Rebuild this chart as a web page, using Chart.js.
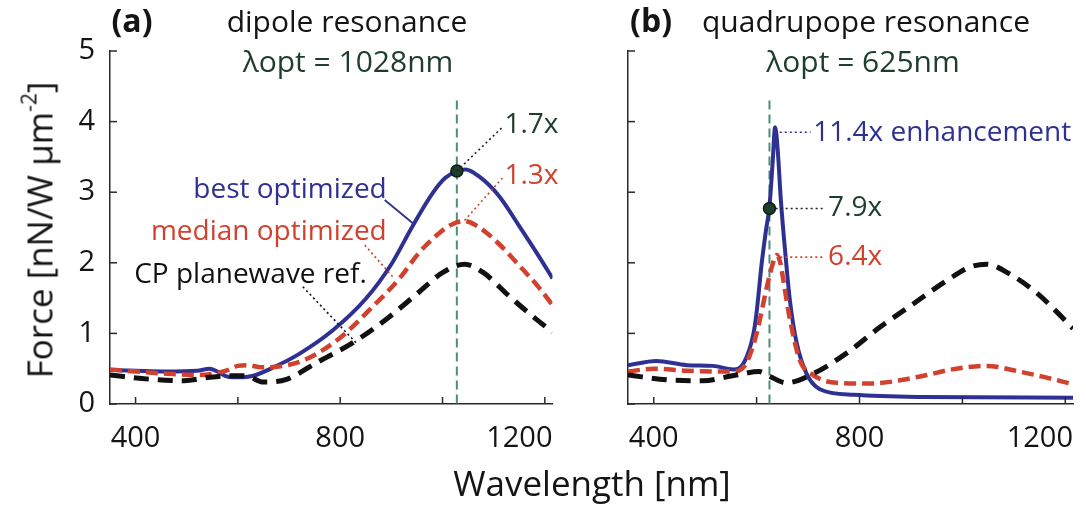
<!DOCTYPE html>
<html>
<head>
<meta charset="utf-8">
<script src="https://cdn.jsdelivr.net/npm/chart.js@4.4.1/dist/chart.umd.min.js"></script>
<style>
  body { margin: 0; background: #fff; width: 1086px; height: 508px; position: relative; overflow: hidden;
         font-family: 'Open Sans', sans-serif; color: #141414; }
  canvas { position: absolute; top: 0; }
  .t { position: absolute; white-space: nowrap; line-height: 1; transform: translateX(-50%); }
  .green { color: #1f3d2c; }
  sup { font-size: 0.6em; line-height: 0; vertical-align: 0.75em; }
</style>
</head>
<body>
<canvas id="chartA" width="560" height="508" style="left:0"></canvas>
<canvas id="chartB" width="526" height="508" style="left:560px"></canvas>

<!-- titles: top = baseline - 0.888 * font size (Open Sans, line-height 1) -->
<div class="t" style="left:132px;top:4px;font-size:32px;font-weight:bold">(a)</div>
<div class="t" style="left:347px;top:6px;font-size:30px">dipole resonance</div>
<div class="t green" style="left:348px;top:46px;font-size:30px">λopt = 1028nm</div>
<div class="t" style="left:651px;top:4px;font-size:32px;font-weight:bold">(b)</div>
<div class="t" style="left:866px;top:6px;font-size:30px">quadrupope resonance</div>
<div class="t green" style="left:863px;top:46px;font-size:30px">λopt = 625nm</div>
<div class="t" style="left:592px;top:465px;font-size:35px">Wavelength [nm]</div>
<div class="t" style="left:39px;top:230px;font-size:35px;transform:translate(-50%,-50%) rotate(-90deg)">Force [nN/W µm<sup>-2</sup>]</div>

<script>
// Achsen
const X_MIN = 350, X_MAX = 1215;
const Y_MIN = 0, Y_MAX = 5;
const X_TICKS = [400, 600, 800, 1000, 1200];
const X_TICK_LABELS = ['400', '', '800', '', '1200'];
const Y_TICKS = [0, 1, 2, 3, 4, 5];

// (a) dipole resonance
const A_BEST_NM = [350, 400, 460, 520, 545, 560, 575, 590, 610, 630, 670, 720, 785, 850, 900, 940, 980, 1005, 1028, 1045, 1070, 1110, 1150, 1185, 1215];
const A_BEST_F  = [0.48, 0.47, 0.46, 0.47, 0.50, 0.46, 0.40, 0.38, 0.38, 0.40, 0.52, 0.71, 1.04, 1.49, 1.98, 2.50, 2.98, 3.20, 3.30, 3.32, 3.23, 2.95, 2.52, 2.13, 1.78];
const A_MED_NM  = [350, 400, 460, 525, 560, 580, 600, 620, 645, 680, 735, 800, 865, 915, 955, 995, 1020, 1043, 1070, 1110, 1150, 1185, 1215];
const A_MED_F   = [0.49, 0.46, 0.43, 0.41, 0.44, 0.48, 0.54, 0.55, 0.52, 0.53, 0.64, 0.94, 1.39, 1.77, 2.15, 2.43, 2.55, 2.59, 2.51, 2.27, 1.96, 1.68, 1.40];
const A_REF_NM  = [350, 430, 495, 545, 585, 615, 650, 695, 755, 825, 890, 950, 1000, 1043, 1080, 1130, 1180, 1215];
const A_REF_F   = [0.41, 0.35, 0.33, 0.38, 0.40, 0.40, 0.31, 0.35, 0.59, 0.87, 1.20, 1.56, 1.86, 1.98, 1.86, 1.53, 1.22, 1.02];
const A_LAMBDA_OPT = 1028;
const A_OPT_F = 3.3;

// (b) quadrupole resonance
const B_BEST_NM = [350, 405, 465, 515, 555, 575, 594, 600, 610, 618, 625, 631, 636, 641, 647, 655, 665, 678, 697, 723, 790, 920, 1215];
const B_BEST_F  = [0.55, 0.61, 0.55, 0.54, 0.49, 0.58, 1.00, 1.30, 2.00, 2.45, 2.80, 3.40, 3.92, 3.60, 2.90, 2.20, 1.45, 0.86, 0.43, 0.21, 0.13, 0.10, 0.09];
const B_MED_NM  = [350, 400, 465, 555, 580, 600, 620, 632, 639, 646, 652, 665, 684, 710, 755, 820, 918, 980, 1047, 1110, 1160, 1215];
const B_MED_F   = [0.46, 0.50, 0.47, 0.46, 0.58, 1.00, 1.66, 2.00, 2.11, 2.00, 1.75, 1.19, 0.62, 0.41, 0.30, 0.29, 0.39, 0.49, 0.54, 0.46, 0.38, 0.28];
const B_REF_NM  = [350, 430, 495, 560, 605, 626, 658, 710, 775, 840, 905, 970, 1015, 1047, 1090, 1145, 1180, 1215];
const B_REF_F   = [0.41, 0.34, 0.33, 0.41, 0.46, 0.39, 0.30, 0.43, 0.72, 1.09, 1.42, 1.75, 1.94, 1.98, 1.85, 1.57, 1.33, 1.07];
const B_LAMBDA_OPT = 625;
const B_OPT_F = 2.77;

const BLUE = '#2e3192';
const RED = '#d2412e';
const GREEN = '#1f3d2c';
const AXIS = '#2a2a2a';

function series(nm, f) {
    return nm.map((v, i) => ({ x: v, y: f[i] }));
}

// MATLAB-Stil: Ticks nach innen, Optimum-Linie, Beschriftungen mit Hilfslinien
const matlabPlugin = {
    id: 'matlab',
    beforeDatasetsDraw(chart, args, opts) {
        const { ctx, chartArea, scales: { x, y } } = chart;
        const px = x.getPixelForValue(opts.lambda);
        ctx.save();
        ctx.strokeStyle = '#4e8e77';
        ctx.lineWidth = 2;
        ctx.setLineDash([9, 5]);
        ctx.beginPath();
        ctx.moveTo(px, y.getPixelForValue(opts.lineTop));
        ctx.lineTo(px, chartArea.bottom);
        ctx.stroke();
        ctx.restore();
    },
    afterDraw(chart, args, opts) {
        const { ctx, chartArea, scales: { x, y } } = chart;
        ctx.save();
        ctx.strokeStyle = AXIS;
        ctx.lineWidth = 1.5;
        X_TICKS.forEach(v => {
            const px = x.getPixelForValue(v);
            ctx.beginPath();
            ctx.moveTo(px, chartArea.bottom);
            ctx.lineTo(px, chartArea.bottom - 7);
            ctx.stroke();
        });
        Y_TICKS.forEach(v => {
            const py = y.getPixelForValue(v);
            ctx.beginPath();
            ctx.moveTo(chartArea.left, py);
            ctx.lineTo(chartArea.left + 7, py);
            ctx.stroke();
        });

        // x labels, the last one is kept inside the axis like in the original
        ctx.font = '29px "Open Sans"';
        ctx.fillStyle = '#141414';
        ctx.textAlign = 'center';
        ctx.textBaseline = 'alphabetic';
        X_TICKS.forEach((v, i) => {
            const t = X_TICK_LABELS[i];
            if (!t) return;
            const w = ctx.measureText(t).width;
            const cx = Math.min(x.getPixelForValue(v), chartArea.right - w / 2);
            ctx.fillText(t, cx, chartArea.bottom + 43);
        });

        opts.notes.forEach(n => {
            if (n.from) {
                ctx.strokeStyle = n.lineColor || n.color;
                ctx.lineWidth = n.dotted ? 1.6 : 1.8;
                ctx.setLineDash(n.dotted ? [2, 3] : []);
                ctx.beginPath();
                ctx.moveTo(x.getPixelForValue(n.from[0]), y.getPixelForValue(n.from[1]));
                ctx.lineTo(x.getPixelForValue(n.to[0]), y.getPixelForValue(n.to[1]));
                ctx.stroke();
            }
            ctx.font = '28px "Open Sans"';
            ctx.fillStyle = n.color;
            ctx.textAlign = n.align;
            ctx.textBaseline = 'middle';
            ctx.fillText(n.text, x.getPixelForValue(n.at[0]), y.getPixelForValue(n.at[1]));
        });
        ctx.restore();
    }
};

function makeChart(id, cfg) {
    return new Chart(document.getElementById(id), {
        type: 'line',
        data: {
            datasets: [
                { label: 'optimum', data: [{ x: cfg.lambda, y: cfg.optF }], showLine: false,
                  pointRadius: 6, backgroundColor: GREEN, borderColor: '#0e1d14', borderWidth: 1.5, order: 0 },
                { label: 'CP planewave ref.', data: cfg.ref, borderColor: '#111', borderWidth: 5,
                  borderDash: [15, 9], pointRadius: 0, order: 1 },
                { label: 'median optimized', data: cfg.med, borderColor: RED, borderWidth: 4.5,
                  borderDash: [12, 6], pointRadius: 0, order: 2 },
                { label: 'best optimized', data: cfg.best, borderColor: BLUE, borderWidth: 4,
                  pointRadius: 0, order: 3 }
            ]
        },
        options: {
            responsive: false,
            animation: false,
            devicePixelRatio: 1,
            events: [],
            layout: { padding: { top: 51, right: cfg.padRight, left: 0, bottom: 0 } },
            datasets: { line: { cubicInterpolationMode: 'monotone', fill: false } },
            plugins: {
                legend: { display: false },
                tooltip: { enabled: false },
                matlab: { lambda: cfg.lambda, lineTop: 4.3, notes: cfg.notes }
            },
            scales: {
                x: {
                    type: 'linear', min: X_MIN, max: X_MAX,
                    grid: { display: false },
                    border: { display: true, color: AXIS, width: 1.5 },
                    ticks: { display: false },
                    afterFit: s => { s.height = 104; }
                },
                y: {
                    min: Y_MIN, max: Y_MAX,
                    grid: { display: false, drawTicks: false },
                    border: { display: true, color: AXIS, width: 1.5 },
                    ticks: { display: cfg.yLabels, stepSize: 1, padding: 15, color: '#141414',
                             font: { family: 'Open Sans', size: 29 } },
                    afterFit: s => { s.width = cfg.axisLeft; }
                }
            }
        },
        plugins: [matlabPlugin]
    });
}

makeChart('chartA', {
    lambda: A_LAMBDA_OPT, optF: A_OPT_F,
    best: series(A_BEST_NM, A_BEST_F),
    med: series(A_MED_NM, A_MED_F),
    ref: series(A_REF_NM, A_REF_F),
    axisLeft: 110, padRight: 7, yLabels: true,
    notes: [
        { text: '1.7x', color: GREEN, lineColor: '#222', align: 'left', at: [1121, 3.95],
          from: [A_LAMBDA_OPT, A_OPT_F], to: [1117, 3.92], dotted: true },
        { text: '1.3x', color: RED, align: 'left', at: [1121, 3.23],
          from: [1043, 2.6], to: [1117, 3.2], dotted: true },
        { text: 'best optimized', color: BLUE, align: 'right', at: [891, 3.03],
          from: [887, 2.89], to: [942, 2.56] },
        { text: 'median optimized', color: RED, align: 'right', at: [891, 2.44],
          from: [848, 2.25], to: [903, 1.8], dotted: true },
        { text: 'CP planewave ref.', color: '#111', align: 'right', at: [852, 1.83],
          from: [727, 1.66], to: [832, 0.86], dotted: true }
    ]
});

makeChart('chartB', {
    lambda: B_LAMBDA_OPT, optF: B_OPT_F,
    best: series(B_BEST_NM, B_BEST_F),
    med: series(B_MED_NM, B_MED_F),
    ref: series(B_REF_NM, B_REF_F),
    axisLeft: 68, padRight: 13, yLabels: false,
    notes: [
        { text: '11.4x enhancement', color: BLUE, align: 'left', at: [710, 3.84],
          from: [645, 3.85], to: [705, 3.85], dotted: true },
        { text: '7.9x', color: GREEN, lineColor: '#222', align: 'left', at: [739, 2.78],
          from: [B_LAMBDA_OPT + 12, B_OPT_F], to: [733, B_OPT_F], dotted: true },
        { text: '6.4x', color: RED, align: 'left', at: [739, 2.08],
          from: [646, 2.08], to: [733, 2.08], dotted: true }
    ]
});
</script>
</body>
</html>
